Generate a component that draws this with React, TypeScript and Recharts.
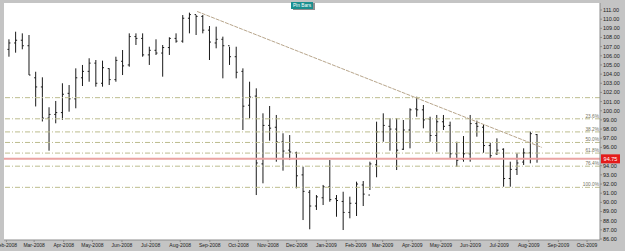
import React from "react";
import { ComposedChart, Bar, XAxis, YAxis, CartesianGrid, ReferenceLine } from "recharts";

// weekly bars, first bar = week of 4 Feb 2008
const START = Date.UTC(2008, 1, 4);
const WEEK_MS = 7 * 24 * 3600 * 1000;

const opens = [
  106.7, 107.4, 107.7, 107.1, 103.6, 102.6, 99.2, 99.6, 99.8, 101.9,
  101.3, 103.6, 104.3, 105.2, 103.0, 104.6, 103.4, 105.4, 105.0, 108.1,
  107.9, 106.1, 106.6, 106.3, 106.9, 107.9, 107.6, 110.1, 110.5, 110.3,
  108.8, 107.4, 107.8, 107.1, 105.9, 104.3, 100.6, 101.6, 94.2, 98.4,
  98.2, 96.6, 95.7, 95.4, 93.0, 91.1, 89.6, 90.5, 91.7, 90.4,
  90.1, 88.9, 89.9, 91.9, 90.8, 94.1, 97.7, 98.3, 98.0, 95.8,
  97.9, 100.2, 100.1, 99.1, 97.3, 98.8, 98.4, 95.3, 94.7, 95.3,
  98.6, 98.2, 96.2, 95.3, 95.8, 92.6, 93.6, 94.4, 95.4, 97.4,
];
const highs = [
  107.8, 108.63, 108.45, 108.27, 104.26, 103.65, 100.38, 101.07, 103.0, 102.81,
  104.63, 105.0, 105.73, 105.54, 105.47, 104.63, 105.9, 106.63, 108.45, 108.45,
  108.45, 106.99, 107.8, 107.18, 108.02, 108.45, 110.45, 110.71, 110.45, 110.45,
  109.25, 109.18, 108.09, 106.99, 106.99, 104.63, 103.17, 102.45, 99.72, 100.52,
  99.54, 97.54, 97.35, 95.53, 93.89, 91.35, 90.8, 91.9, 94.62, 90.8,
  91.16, 90.62, 92.26, 92.33, 94.44, 98.81, 99.72, 99.18, 99.18, 98.99,
  100.27, 101.53, 100.63, 99.35, 99.54, 99.54, 98.81, 96.62, 97.24, 99.54,
  98.92, 98.55, 96.51, 96.99, 95.9, 94.44, 95.35, 95.9, 97.72, 97.46,
];
const lows = [
  105.9, 106.34, 106.71, 103.9, 100.47, 98.83, 95.64, 98.63, 99.0, 99.9,
  100.27, 102.7, 103.17, 102.63, 102.63, 102.81, 103.17, 103.9, 104.81, 107.18,
  105.9, 105.0, 106.09, 103.72, 106.09, 107.43, 107.43, 108.45, 108.27, 108.45,
  105.54, 106.82, 103.54, 105.0, 103.54, 97.9, 99.18, 90.8, 92.08, 96.73,
  94.44, 93.46, 94.62, 91.53, 88.07, 87.06, 89.17, 89.71, 90.07, 88.43,
  86.98, 88.26, 88.51, 89.6, 91.35, 92.74, 96.62, 95.64, 93.53, 95.72,
  95.9, 99.35, 98.08, 96.62, 95.53, 97.9, 94.81, 93.89, 94.44, 94.44,
  97.17, 95.42, 94.81, 95.17, 91.71, 91.71, 92.99, 94.08, 94.26, 94.33,
];
const closes = [
  107.4, 107.7, 107.1, 103.9, 102.6, 99.2, 99.6, 99.8, 101.8, 101.3,
  103.6, 104.3, 105.2, 103.0, 104.7, 103.4, 105.5, 104.9, 108.1, 107.9,
  106.1, 106.6, 106.3, 106.9, 107.9, 107.6, 110.1, 110.5, 110.3, 108.8,
  107.5, 107.8, 107.1, 105.9, 104.2, 100.5, 101.5, 94.3, 98.4, 98.1,
  96.6, 95.6, 95.5, 92.9, 91.2, 89.6, 90.6, 91.7, 90.3, 90.2,
  88.9, 89.9, 92.0, 90.9, 94.2, 97.7, 98.4, 98.0, 95.7, 97.9,
  100.1, 100.1, 99.0, 97.3, 98.8, 98.3, 95.3, 94.6, 95.3, 98.6,
  98.3, 96.2, 95.1, 95.7, 92.6, 93.6, 94.3, 95.4, 97.5, 94.75,
];

const monthLabels = [
  "Feb-2008", "Mar-2008", "Apr-2008", "May-2008", "Jun-2008", "Jul-2008", "Aug-2008",
  "Sep-2008", "Oct-2008", "Nov-2008", "Dec-2008", "Jan-2009", "Feb-2009", "Mar-2009",
  "Apr-2009", "May-2009", "Jun-2009", "Jul-2009", "Aug-2009", "Sep-2009", "Oct-2009",
];

const priceTicks = [86, 87, 88, 89, 90, 91, 92, 93, 94, 96, 97, 98, 99, 100, 101, 102,
  103, 104, 105, 106, 107, 108, 109, 110, 111];

const fibLevels = [101.43, 99.12, 97.69, 96.54, 95.38, 93.95, 91.64];
const fibLabels = ["", "23.6%", "38.2%", "50.0%", "61.8%", "76.4%", "100.0%"];
const lastPrice = 94.75;
const trendWeeks = [28.1, 79.7];
const trendPrices = [110.84, 95.99];

const MONTHS = ["Jan", "Feb", "Mar", "Apr", "May", "Jun", "Jul", "Aug", "Sep", "Oct", "Nov", "Dec"];
const monthTicks = monthLabels.map((l) => {
  const [m, y] = l.split("-");
  return (Date.UTC(Number(y), MONTHS.indexOf(m), 1) - START) / WEEK_MS;
});

const data = opens.map((o, i) => ({
  w: i,
  open: o,
  high: highs[i],
  low: lows[i],
  close: closes[i],
}));

const FONT = "'Liberation Sans', Arial, sans-serif";

const OhlcBar = (props: any) => {
  const { x, y, width, height, payload } = props;
  if (!payload) return null;
  const top = Math.min(y, y + height);
  const h = Math.abs(height);
  const cx = x + width / 2;
  const k = h / (payload.high - payload.low);
  const yo = top + (payload.high - payload.open) * k;
  const yc = top + (payload.high - payload.close) * k;
  return (
    <g stroke="#1a1a1a" strokeWidth={1}>
      <line x1={cx} x2={cx} y1={top} y2={top + h} />
      <line x1={cx - 1.5} x2={cx} y1={yo} y2={yo} />
      <line x1={cx} x2={cx + 1.5} y1={yc} y2={yc} />
    </g>
  );
};

const fibLabel = (text: string) => (p: any) => {
  const vb = p.viewBox;
  if (!text) return null;
  return (
    <text x={vb.x + vb.width - 1} y={vb.y - 1} textAnchor="end" fontSize={4.8} fill="#74745f" fontFamily={FONT}>
      {text}
    </text>
  );
};

const priceLabel = (p: any) => {
  const vb = p.viewBox;
  const x0 = vb.x + vb.width + 1;
  return (
    <g>
      <rect x={x0} y={vb.y - 4.5} width={19} height={9} fill="#e41b1b" />
      <text x={x0 + 9.5} y={vb.y + 2} textAnchor="middle" fontSize={5.5} fill="#fff" fontFamily={FONT}>
        {lastPrice.toFixed(2)}
      </text>
    </g>
  );
};

export default function App() {
  return (
    <div style={{ position: "absolute", left: 0, top: 0, width: 625, height: 251, background: "#c4c4c4" }}>
      <ComposedChart
        width={625}
        height={251}
        data={data}
        margin={{ top: 3, right: 0, bottom: 0, left: 4 }}
        style={{ fontFamily: FONT }}
      >
        <CartesianGrid horizontal={false} vertical={false} fill="#ffffff" />
        <XAxis
          dataKey="w"
          type="number"
          domain={[-0.79, 88.37]}
          allowDataOverflow
          ticks={monthTicks}
          interval={0}
          tickFormatter={(_v: number, i: number) => monthLabels[i]}
          height={11}
          tickSize={2}
          tickMargin={1}
          tick={{ fontSize: 5, fill: "#222" }}
          stroke="#8c8c8c"
        />
        <YAxis
          orientation="right"
          type="number"
          domain={[85.891, 111.764]}
          allowDataOverflow
          ticks={priceTicks}
          interval={0}
          tickFormatter={(v: number) => v.toFixed(2)}
          width={25}
          tickSize={2}
          tickMargin={1}
          tick={{ fontSize: 5.5, fill: "#222" }}
          stroke="#8c8c8c"
        />
        {fibLevels.map((lv, i) => (
          <ReferenceLine
            key={lv}
            y={lv}
            stroke="#bdbd8f"
            strokeWidth={1}
            strokeDasharray="5 2 1 2"
            label={fibLabel(fibLabels[i])}
          />
        ))}
        <ReferenceLine y={lastPrice} stroke="#eba3a3" strokeWidth={2} label={priceLabel} />
        <ReferenceLine
          segment={[
            { x: trendWeeks[0], y: trendPrices[0] },
            { x: trendWeeks[1], y: trendPrices[1] },
          ]}
          stroke="#b8a68c"
          strokeWidth={1}
          strokeDasharray="4 1"
        />
        <Bar
          dataKey={(d: any) => [d.low, d.high]}
          barSize={4}
          shape={OhlcBar}
          isAnimationActive={false}
        />
      </ComposedChart>
      <div
        style={{
          position: "absolute",
          left: 291,
          top: 1.5,
          width: 22,
          height: 7,
          background: "#1b8f8f",
          color: "#fff",
          fontFamily: FONT,
          fontSize: 4.8,
          lineHeight: "7px",
          textAlign: "center",
          boxShadow: "2px 1px 0 #8f8f8f",
        }}
      >
        Pin Bars
      </div>
    </div>
  );
}
